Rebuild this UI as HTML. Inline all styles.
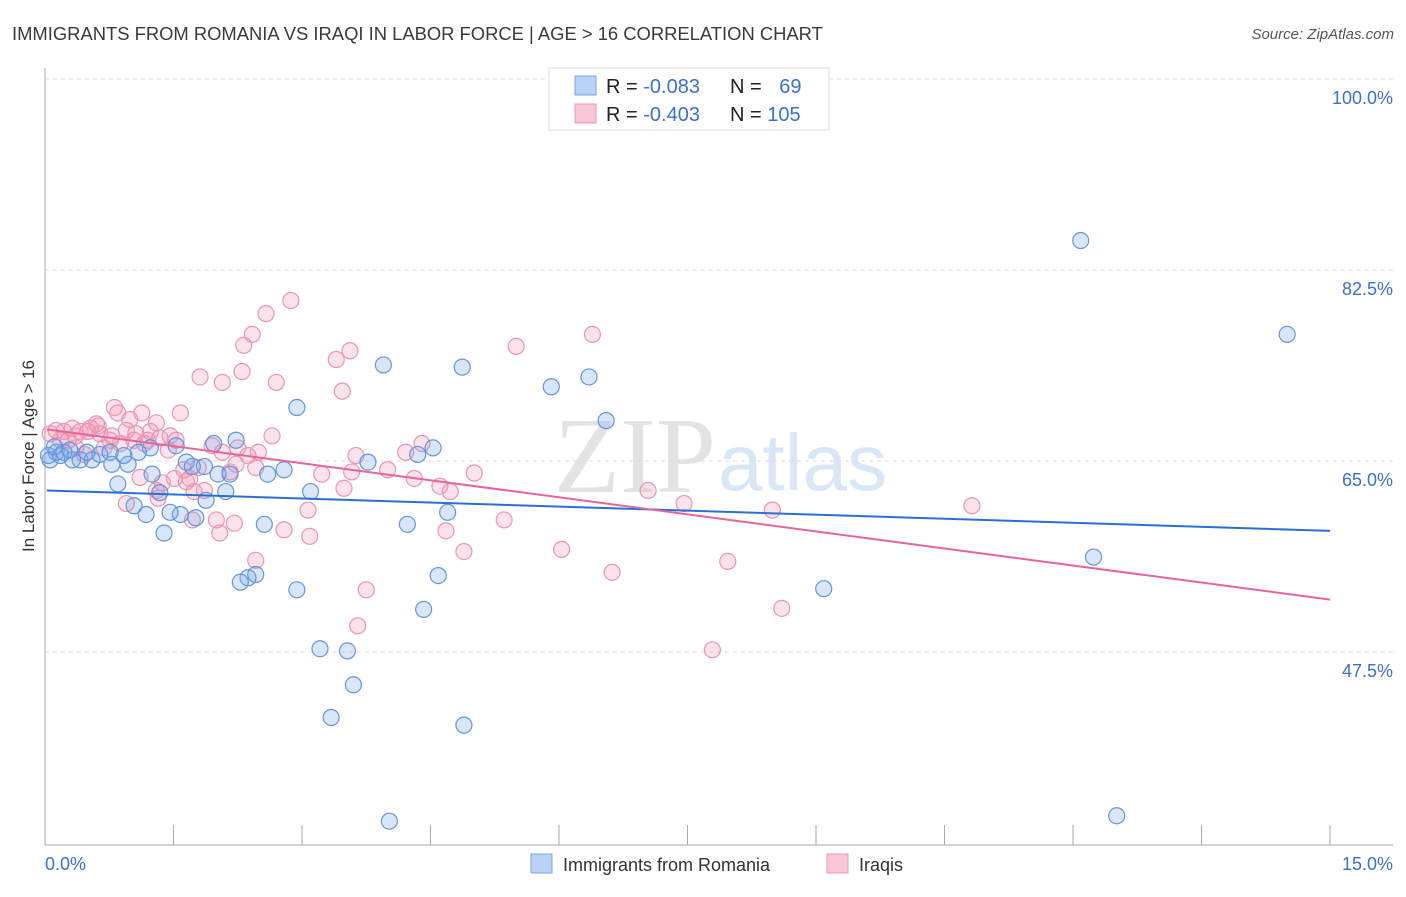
<!DOCTYPE html>
<html><head><meta charset="utf-8">
<style>
body{margin:0;background:#fff;font-family:"Liberation Sans",sans-serif;}
svg text{font-family:"Liberation Sans",sans-serif;}
</style></head>
<body>
<svg id="chart" width="1406" height="892" viewBox="0 0 1406 892" xmlns="http://www.w3.org/2000/svg">
<text x="12" y="40" font-size="18.4" fill="#3a3a3a">IMMIGRANTS FROM ROMANIA VS IRAQI IN LABOR FORCE | AGE &gt; 16 CORRELATION CHART</text>
<text x="1394" y="39" font-size="15" fill="#555" font-style="italic" text-anchor="end">Source: ZipAtlas.com</text>
<text x="554" y="492" font-size="108" fill="#e3e3e3" style="font-family:'Liberation Serif',serif">ZIP</text>
<text x="718" y="490" font-size="80" fill="#d9e6f6">atlas</text>
<g id="grid"></g>
<g id="axes"></g>
<g id="points"></g>
<g id="trends"></g>
<text transform="translate(34,456) rotate(-90)" font-size="17" fill="#333" text-anchor="middle">In Labor Force | Age &gt; 16</text>
<g>
<rect x="549" y="68" width="280" height="62" fill="#fff" stroke="#ddd"/>
<rect x="575" y="76" width="21" height="19" fill="#b8d3f5" stroke="#7aa6e0"/>
<rect x="575" y="104" width="21" height="19" fill="#f9c6d6" stroke="#ec9ab5"/>
<text x="606" y="93" font-size="20" fill="#222">R = <tspan fill="#3b6fd4">-0.083</tspan></text>
<text x="730" y="93" font-size="20" fill="#222">N = <tspan fill="#3b6fd4" dx="12">69</tspan></text>
<text x="606" y="121" font-size="20" fill="#222">R = <tspan fill="#3b6fd4">-0.403</tspan></text>
<text x="730" y="121" font-size="20" fill="#222">N = <tspan fill="#3b6fd4">105</tspan></text>
</g>
<g>
<rect x="531" y="854" width="21" height="19" fill="#b8d3f5" stroke="#7aa6e0"/>
<text x="563" y="871" font-size="18" fill="#333">Immigrants from Romania</text>
<rect x="827" y="854" width="21" height="19" fill="#f9c6d6" stroke="#ec9ab5"/>
<text x="859" y="871" font-size="18" fill="#333">Iraqis</text>
</g>
</svg>
<script>
const yTicks=[100.0,82.5,65.0,47.5];
const yTickLabels=["100.0%","82.5%","65.0%","47.5%"];
const xTickValues=[0,1.5,3,4.5,6,7.5,9,10.5,12,13.5,15];
const xEndLabels=["0.0%","15.0%"];
const romania=[[12.09,85.2],[14.50,76.6],[12.24,56.2],[9.09,53.3],[12.51,32.5],[4.02,32.0],[4.89,40.8],[3.34,41.5],[3.60,44.5],[3.21,47.8],[3.53,47.6],[2.94,53.2],[4.42,51.4],[4.59,54.5],[4.23,59.2],[4.70,60.3],[3.95,73.8],[4.87,73.6],[5.91,71.8],[6.35,72.7],[6.55,68.7],[2.94,69.9],[3.77,64.9],[4.35,65.6],[4.53,66.2],[3.10,62.2],[2.79,64.2],[2.60,63.8],[2.56,59.2],[2.23,66.9],[2.37,54.3],[2.28,53.9],[2.46,54.6],[1.97,66.6],[2.02,63.8],[2.16,63.8],[2.11,62.2],[1.88,61.4],[1.76,59.8],[1.86,64.5],[1.65,64.9],[1.72,64.5],[1.53,66.4],[1.58,60.1],[1.46,60.3],[1.39,58.4],[1.25,63.8],[1.34,62.1],[1.23,66.2],[1.18,60.1],[1.04,60.9],[1.09,65.8],[0.97,64.7],[0.92,65.5],[0.85,62.9],[0.78,64.7],[0.64,65.6],[0.55,65.1],[0.41,65.1],[0.32,65.1],[0.22,65.8],[0.13,65.8],[0.06,65.1],[0.04,65.5],[0.18,65.5],[0.29,66.0],[0.76,65.8],[0.49,65.8],[0.11,66.3]];
const iraqis=[[2.87,79.7],[2.58,78.5],[2.42,76.6],[2.32,75.6],[3.40,74.3],[3.56,75.1],[3.47,71.4],[5.50,75.5],[6.39,76.6],[2.30,73.2],[2.70,72.2],[1.81,72.7],[2.07,72.2],[1.58,69.4],[1.30,68.5],[1.13,69.4],[0.81,69.9],[0.85,69.4],[1.20,66.9],[0.99,68.8],[0.95,67.8],[0.76,66.9],[0.62,68.2],[0.53,68.0],[0.41,67.7],[0.32,68.0],[0.22,67.7],[0.13,67.8],[0.06,67.5],[0.18,66.9],[0.27,66.9],[0.36,66.2],[0.46,65.6],[0.60,68.4],[0.64,67.5],[0.69,66.2],[0.88,66.6],[1.04,66.9],[1.16,66.6],[1.34,67.1],[1.46,67.3],[1.53,66.9],[1.44,66.0],[1.62,64.2],[1.69,63.4],[1.79,64.4],[1.95,66.4],[2.07,65.8],[2.25,66.2],[2.37,65.5],[2.49,65.8],[2.65,67.3],[2.16,64.0],[1.86,62.3],[1.74,62.2],[2.00,59.6],[2.04,58.4],[2.21,59.3],[1.72,59.6],[1.32,61.6],[1.37,63.0],[1.51,63.4],[1.65,63.1],[1.11,63.5],[0.95,61.1],[1.30,62.3],[2.46,55.9],[2.79,58.7],[3.07,60.5],[3.09,58.1],[3.23,63.8],[3.49,62.5],[3.58,64.0],[3.63,65.5],[3.75,53.2],[3.65,49.9],[4.00,64.2],[4.21,65.8],[4.31,63.4],[4.40,66.6],[4.61,62.7],[4.68,58.6],[4.73,62.2],[4.89,56.7],[5.01,63.9],[5.36,59.6],[6.03,56.9],[6.62,54.8],[7.04,62.3],[7.46,61.1],[7.79,47.7],[7.97,55.8],[8.49,60.5],[8.60,51.5],[10.82,60.9],[2.46,64.4],[2.23,64.7],[1.23,67.7],[1.06,67.5],[0.78,67.3],[0.50,67.7],[0.36,67.3]];
const romaniaTrend=[[0.02,62.3],[15,58.6]];
const iraqiTrend=[[0.02,67.9],[15,52.3]];

const NS="http://www.w3.org/2000/svg";
const X0=45,X1=1330,Y100=79,PXPER=191/17.5;
const xS=v=>X0+(v/15)*(X1-X0);
const yS=v=>Y100+(100-v)*PXPER;
function mk(tag,attrs,parent){const e=document.createElementNS(NS,tag);for(const k in attrs)e.setAttribute(k,attrs[k]);parent.appendChild(e);return e;}
const grid=document.getElementById('grid'),axes=document.getElementById('axes'),pts=document.getElementById('points'),tr=document.getElementById('trends');
yTicks.forEach((t,i)=>{
  const l=mk('line',{x1:45,x2:1393,y1:yS(t),y2:yS(t),stroke:'#ddd','stroke-dasharray':'4,4'},grid);
  
  
  const tx=mk('text',{x:1393,y:yS(t)+25,'font-size':18,fill:'#3b6fd4','text-anchor':'end'},axes);
  tx.textContent=yTickLabels[i];
  
  
});
const ax=mk('line',{x1:45,x2:45,y1:68,y2:845,stroke:'#aaa'},axes);


const bx=mk('line',{x1:45,x2:1393,y1:845,y2:845,stroke:'#aaa'},axes);


xTickValues.forEach(v=>{
  const t=mk('line',{x1:xS(v),x2:xS(v),y1:825,y2:845,stroke:'#aaa'},axes);
  
  
});
const xl0=mk('text',{x:45,y:870,'font-size':18,fill:'#3b6fd4'},axes);xl0.textContent=xEndLabels[0];


const xl1=mk('text',{x:1393,y:870,'font-size':18,fill:'#3b6fd4','text-anchor':'end'},axes);xl1.textContent=xEndLabels[1];


iraqis.forEach(p=>{
  const c=mk('circle',{cx:xS(p[0]),cy:yS(p[1]),r:8,fill:'rgba(244,150,180,0.28)',stroke:'#eb94b2','stroke-width':1.2},pts);
  
  
});
romania.forEach(p=>{
  const c=mk('circle',{cx:xS(p[0]),cy:yS(p[1]),r:8,fill:'rgba(120,165,235,0.28)',stroke:'#6495dc','stroke-width':1.2},pts);
  
  
});
const l1=mk('line',{x1:xS(romaniaTrend[0][0]),y1:yS(romaniaTrend[0][1]),x2:xS(romaniaTrend[1][0]),y2:yS(romaniaTrend[1][1]),stroke:'#2a6fd6','stroke-width':2},tr);


const l2=mk('line',{x1:xS(iraqiTrend[0][0]),y1:yS(iraqiTrend[0][1]),x2:xS(iraqiTrend[1][0]),y2:yS(iraqiTrend[1][1]),stroke:'#e8649a','stroke-width':2},tr);


</script>
</body></html>
